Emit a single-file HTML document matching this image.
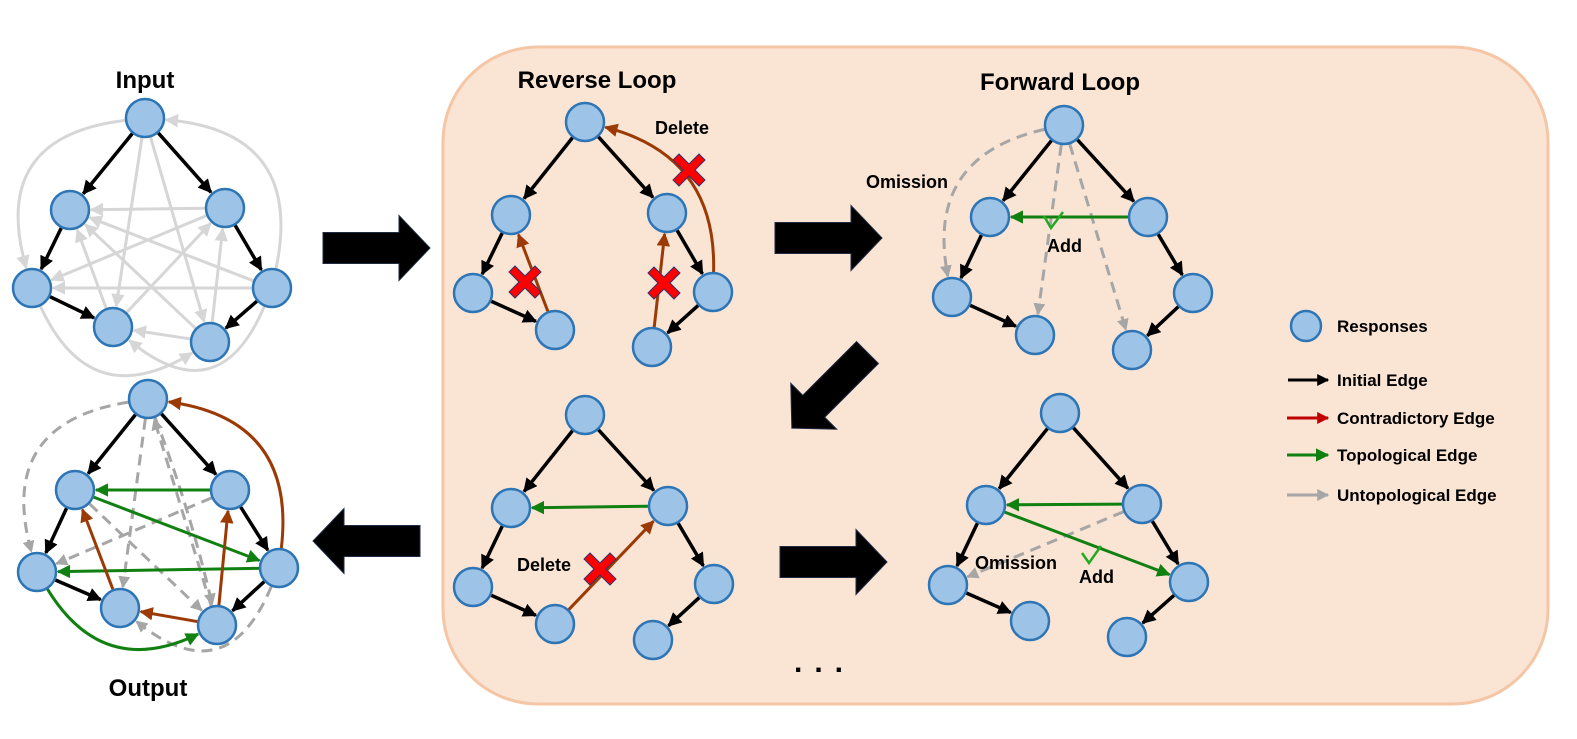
<!DOCTYPE html>
<html><head><meta charset="utf-8"><style>
html,body{margin:0;padding:0;background:#fff;}
svg{display:block;}
text{font-family:"Liberation Sans",sans-serif;font-weight:bold;fill:#000;}
</style></head><body>
<svg id="s" width="1577" height="739" viewBox="0 0 1577 739" xmlns="http://www.w3.org/2000/svg">
<defs>
<marker id="mk" viewBox="0 0 10 10" refX="9" refY="5" markerWidth="4" markerHeight="4" orient="auto"><path d="M0,0L10,5L0,10z" fill="#000"/></marker>
<marker id="mb" viewBox="0 0 10 10" refX="9" refY="5" markerWidth="4.5" markerHeight="4.5" orient="auto"><path d="M0,0L10,5L0,10z" fill="#9c3a06"/></marker>
<marker id="mg" viewBox="0 0 10 10" refX="9" refY="5" markerWidth="4.5" markerHeight="4.5" orient="auto"><path d="M0,0L10,5L0,10z" fill="#108010"/></marker>
<marker id="ma" viewBox="0 0 10 10" refX="9" refY="5" markerWidth="4" markerHeight="4" orient="auto"><path d="M0,0L10,5L0,10z" fill="#a6a6a6"/></marker>
<marker id="ml" viewBox="0 0 10 10" refX="9" refY="5" markerWidth="4.5" markerHeight="4.5" orient="auto"><path d="M0,0L10,5L0,10z" fill="#d6d6d6"/></marker>
<marker id="mr" viewBox="0 0 10 10" refX="9" refY="5" markerWidth="4" markerHeight="4" orient="auto"><path d="M0,0L10,5L0,10z" fill="#c00000"/></marker>
<symbol id="x" viewBox="-16 -16 32 32" overflow="visible"><path d="M-10,-16L0,-6L10,-16L16,-10L6,0L16,10L10,16L0,6L-10,16L-16,10L-6,0L-16,-10z" fill="#ff0000" stroke="#33336b" stroke-width="1"/></symbol>
</defs>
<rect x="443" y="47" width="1105" height="657" rx="95" fill="#fae4d4" stroke="#f5c6a5" stroke-width="3"/>
<g id="edges"></g>
<g id="nodes"></g>
<g fill="#000" stroke="#1f2a44" stroke-width="1">
<polygon transform="translate(376,248)" points="-53,-15.5 23,-15.5 23,-32.5 54,0 23,32.5 23,15.5 -53,15.5"/>
<polygon transform="translate(828,238)" points="-53,-15.5 23,-15.5 23,-32.5 54,0 23,32.5 23,15.5 -53,15.5"/>
<polygon transform="translate(833,562)" points="-53,-15.5 23,-15.5 23,-32.5 54,0 23,32.5 23,15.5 -53,15.5"/>
<polygon transform="translate(367,541) rotate(180)" points="-53,-15.5 23,-15.5 23,-32.5 54,0 23,32.5 23,15.5 -53,15.5"/>
<polygon transform="translate(830,390) rotate(135)" points="-53,-15.5 23,-15.5 23,-32.5 54,0 23,32.5 23,15.5 -53,15.5"/>
</g>
<use href="#x" x="509" y="266" width="32" height="32"/>
<use href="#x" x="648" y="267" width="32" height="32"/>
<use href="#x" x="673" y="154" width="32" height="32"/>
<use href="#x" x="584" y="553" width="32" height="32"/>
<path d="M1044,216L1051,228L1063,212" fill="none" stroke="#22aa22" stroke-width="2.5"/>
<path d="M1082,553L1089,563L1101,546" fill="none" stroke="#22aa22" stroke-width="2.5"/>
<text x="145" y="88" font-size="24" text-anchor="middle">Input</text>
<text x="148" y="696" font-size="24" text-anchor="middle">Output</text>
<text x="597" y="88" font-size="24" text-anchor="middle">Reverse Loop</text>
<text x="1060" y="90" font-size="24" text-anchor="middle">Forward Loop</text>
<text x="655" y="134" font-size="18">Delete</text>
<text x="866" y="188" font-size="18">Omission</text>
<text x="1047" y="252" font-size="18">Add</text>
<text x="517" y="571" font-size="18">Delete</text>
<text x="975" y="569" font-size="18">Omission</text>
<text x="1079" y="583" font-size="18">Add</text>
<text x="794" y="672" font-size="30" letter-spacing="12">...</text>
<circle cx="1306" cy="326" r="15" fill="#9dc3e6" stroke="#2e75b6" stroke-width="2.5"/>
<text x="1337" y="332" font-size="17">Responses</text>
<line x1="1288" y1="380" x2="1328" y2="380" stroke="#000" stroke-width="3" marker-end="url(#mk)"/>
<line x1="1287" y1="418" x2="1328" y2="418" stroke="#c00000" stroke-width="3" marker-end="url(#mr)"/>
<line x1="1287" y1="455" x2="1328" y2="455" stroke="#108010" stroke-width="3" marker-end="url(#mg)"/>
<line x1="1287" y1="495" x2="1328" y2="495" stroke="#a6a6a6" stroke-width="3" marker-end="url(#ma)"/>
<text x="1337" y="386" font-size="17">Initial Edge</text>
<text x="1337" y="424" font-size="17">Contradictory Edge</text>
<text x="1337" y="461" font-size="17">Topological Edge</text>
<text x="1337" y="501" font-size="17">Untopological Edge</text>
</svg>
<script>
(function(){
var NS="http://www.w3.org/2000/svg",E=document.getElementById("edges"),N=document.getElementById("nodes"),R=19;
var S={k:["#000","mk",3.5],b:["#9c3a06","mb",3],g:["#108010","mg",3],a:["#a6a6a6","ma",3],l:["#d6d6d6","ml",3]};
function sh(p,q,d){var dx=q[0]-p[0],dy=q[1]-p[1],L=Math.hypot(dx,dy);return [p[0]+dx/L*d,p[1]+dy/L*d];}
function ed(G,a,b,t,dash,bend){
 var p=G[a],q=G[b],s=S[t],el=document.createElementNS(NS,"path"),d;
 if(bend){var mx=(p[0]+q[0])/2,my=(p[1]+q[1])/2,dx=q[0]-p[0],dy=q[1]-p[1],L=Math.hypot(dx,dy);
  var c=[mx-dy/L*bend,my+dx/L*bend];var p1=sh(p,c,R+1),q1=sh(q,c,R+2);
  d="M"+p1+"Q"+c+" "+q1;}
 else{var p1=sh(p,q,R+1),q1=sh(q,p,R+2);d="M"+p1+"L"+q1;}
 el.setAttribute("d",d);el.setAttribute("fill","none");el.setAttribute("stroke",s[0]);
 el.setAttribute("stroke-width",s[2]);el.setAttribute("marker-end","url(#"+s[1]+")");
 if(dash)el.setAttribute("stroke-dasharray","11 7");E.appendChild(el);}
function nodes(G){for(var k in G){var c=document.createElementNS(NS,"circle");c.setAttribute("cx",G[k][0]);c.setAttribute("cy",G[k][1]);c.setAttribute("r",R);c.setAttribute("fill","#9dc3e6");c.setAttribute("stroke","#2e75b6");c.setAttribute("stroke-width","2.5");N.appendChild(c);}}
function tree(G){ed(G,"T","L","k");ed(G,"T","R","k");ed(G,"L","LL","k");ed(G,"R","RR","k");ed(G,"LL","BL","k");ed(G,"RR","BR","k");}
var I={T:[145,118],L:[70,210],R:[225,208],LL:[32,288],BL:[113,327],BR:[210,342],RR:[272,288]};
ed(I,"R","L","l");ed(I,"RR","LL","l");ed(I,"R","LL","l");ed(I,"RR","L","l");ed(I,"BL","L","l");ed(I,"BR","L","l");
ed(I,"T","BL","l");ed(I,"T","BR","l");ed(I,"BR","R","l");ed(I,"BL","R","l");ed(I,"BR","BL","l");
ed(I,"T","LL","l",0,120);ed(I,"RR","T","l",0,120);ed(I,"LL","BR","l",0,105);ed(I,"RR","BL","l",0,-110);
tree(I);nodes(I);
var O={T:[148,399],L:[75,490],R:[230,490],LL:[37,572],BL:[120,608],BR:[217,625],RR:[279,568]};
ed(O,"T","LL","a",1,115);ed(O,"T","BL","a",1);ed(O,"BR","T","a",1);ed(O,"T","BR","a",1,-8);ed(O,"L","BR","a",1);ed(O,"R","LL","a",1);ed(O,"RR","BL","a",1,-110);
ed(O,"R","L","g");ed(O,"L","RR","g");ed(O,"RR","LL","g");ed(O,"LL","BR","g",0,85);
ed(O,"BL","L","b");ed(O,"BR","R","b");ed(O,"BR","BL","b");ed(O,"RR","T","b",0,105);
tree(O);nodes(O);
var A={T:[585,122],L:[511,215],R:[667,213],LL:[473,293],BL:[555,330],RR:[713,292],BR:[652,347]};
ed(A,"BL","L","b");ed(A,"BR","R","b");ed(A,"RR","T","b",0,85);tree(A);nodes(A);
var B={T:[1064,125],L:[990,217],R:[1148,217],LL:[952,297],BL:[1035,335],RR:[1193,293],BR:[1132,350]};
ed(B,"T","LL","a",1,100);ed(B,"T","BL","a",1);ed(B,"T","BR","a",1);ed(B,"R","L","g");tree(B);nodes(B);
var C={T:[585,415],L:[511,508],R:[668,506],LL:[473,587],BL:[555,624],RR:[714,584],BR:[653,640]};
ed(C,"R","L","g");ed(C,"BL","R","b");tree(C);nodes(C);
var D={T:[1060,413],L:[986,505],R:[1142,504],LL:[948,585],BL:[1030,621],RR:[1189,582],BR:[1127,637]};
ed(D,"R","LL","a",1);ed(D,"R","L","g");ed(D,"L","RR","g");tree(D);nodes(D);
})();
</script>
</body></html>
